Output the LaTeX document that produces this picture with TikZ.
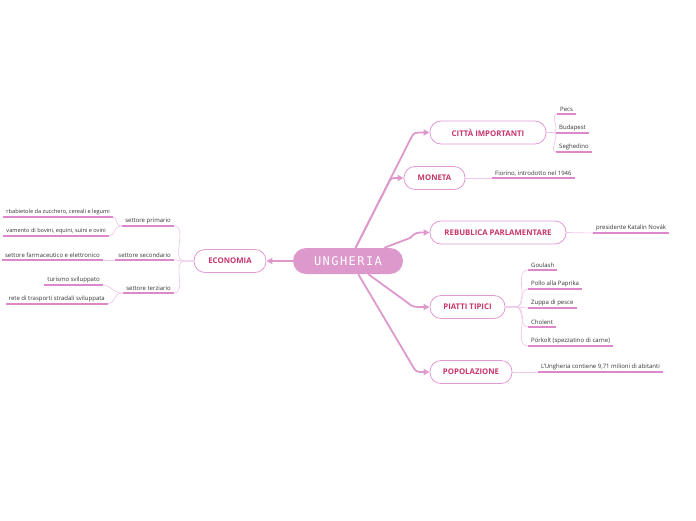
\documentclass[tikz,border=0pt]{standalone}
\usepackage{fontspec}
\setmainfont{Open Sans}
\newfontfamily\rootfont[LetterSpace=12]{DejaVu Sans Mono}
\usetikzlibrary{arrows.meta}

\definecolor{rootpink}{HTML}{DD99CC}
\definecolor{framepink}{HTML}{E29AD6}
\definecolor{linepink}{HTML}{DD88CC}
\definecolor{twigpink}{HTML}{F0C8EA}
\definecolor{topictext}{HTML}{C8356A}
\definecolor{leaftext}{HTML}{333333}

\tikzset{
  root/.style={fill=rootpink, rounded corners=13pt, minimum width=110pt,
    minimum height=26pt, text=white, font=\rootfont\fontsize{12}{14}\selectfont},
  topic/.style={draw=framepink, line width=0.8pt, fill=white, rounded corners=11pt,
    minimum height=23pt, text=topictext, font=\bfseries\fontsize{7.8}{9}\selectfont},
  leaf/.style={text=leaftext, inner xsep=3pt, inner ysep=2pt,
    font=\fontsize{6}{7}\selectfont},
  branch/.style={draw=rootpink, line width=1.8pt, -{Triangle[length=6pt,width=6pt]}},
  twig/.style={draw=twigpink, line width=0.7pt},
  uline/.style={draw=linepink, line width=1.1pt},
}

\begin{document}
\begin{tikzpicture}[x=1pt, y=-1pt]
  \useasboundingbox (0,0) rectangle (696,520);

  % central topic
  \node[root] (root) at (348,261) {UNGHERIA};

  % main topics
  \node[topic, minimum width=116pt] (citta) at (488,132.5) {CITTÀ IMPORTANTI};
  \node[topic, minimum width=61pt] (moneta) at (434.5,178) {MONETA};
  \node[topic, minimum width=136pt] (repub) at (498,232.5) {REBUBLICA PARLAMENTARE};
  \node[topic, minimum width=75pt] (piatti) at (467.5,307) {PIATTI TIPICI};
  \node[topic, minimum width=82pt] (popol) at (471,372) {POPOLAZIONE};
  \node[topic, minimum width=72pt] (economia) at (230,261) {ECONOMIA};

  % branches from the centre
  \draw[branch] (root.60) -- (411,138) .. controls (414,132.5) .. (citta.west);
  \draw[branch] (root.60) -- (388,184) .. controls (391,178) .. (moneta.west);
  \draw[branch] (root.20) -- (410,238) .. controls (416,232.5) .. (repub.west);
  \draw[branch] (root.-33) -- (408,303) .. controls (413,307) .. (piatti.west);
  \draw[branch] (root.-52) -- (412,365) .. controls (416,372) .. (popol.west);
  \draw[branch] (root.west) -- (economia.east);

  % right side leaves
  \node[leaf, anchor=south west] (pecs) at (557,114) {Pecs};
  \node[leaf, anchor=south west] (budapest) at (556,133) {Budapest};
  \node[leaf, anchor=south west] (seghedino) at (556,152) {Seghedino};
  \node[leaf, anchor=south west] (fiorino) at (492,178) {Fiorino, introdotto nel 1946};
  \node[leaf, anchor=south west] (novak) at (593,233) {presidente Katalin Novák};
  \node[leaf, anchor=south west] (goulash) at (528,270) {Goulash};
  \node[leaf, anchor=south west] (paprika) at (528,289) {Pollo alla Paprika};
  \node[leaf, anchor=south west] (zuppa) at (528,308) {Zuppa di pesce};
  \node[leaf, anchor=south west] (cholent) at (528,327) {Cholent};
  \node[leaf, anchor=south west] (porkolt) at (528,346) {Pörkolt (spezzatino di carne)};
  \node[leaf, anchor=south west] (abitanti) at (538,372) {L’Ungheria contiene 9,71 milioni di abitanti};

  % left side leaves
  \node[leaf, anchor=south east] (primario) at (174,226) {settore primario};
  \node[leaf, anchor=south east] (secondario) at (174,260) {settore secondario};
  \node[leaf, anchor=south east] (terziario) at (174,293) {settore terziario};
  \node[leaf, anchor=south east, font=\fontsize{5.6}{7}\selectfont] (barbab) at (113,217) {rbabietole da zucchero, cereali e legumi};
  \node[leaf, anchor=south east, font=\fontsize{5.6}{7}\selectfont] (alleva) at (109,236) {vamento di bovini, equini, suini e ovini};
  \node[leaf, anchor=south east] (farmac) at (103,260) {settore farmaceutico e elettronico};
  \node[leaf, anchor=south east] (turismo) at (103,285) {turismo sviluppato};
  \node[leaf, anchor=south east] (trasporti) at (108,304) {rete di trasporti stradali sviluppata};

  % underlines
  \foreach \n in {pecs,budapest,seghedino,fiorino,novak,goulash,paprika,zuppa,
      cholent,porkolt,abitanti,primario,secondario,terziario,barbab,alleva,
      farmac,turismo,trasporti}
    \draw[uline] (\n.south west) -- (\n.south east);

  % twigs
  \foreach \n in {pecs,budapest,seghedino}
    \draw[twig] (citta.east) -- ++(7,0) to[out=0,in=180] (\n.south west);
  \draw[twig] (moneta.east) -- (fiorino.south west);
  \draw[twig] (repub.east) -- (novak.south west);
  \foreach \n in {goulash,paprika,zuppa,cholent,porkolt}
    \draw[twig] (piatti.east) -- ++(10,0) to[out=0,in=180] (\n.south west);
  \draw[twig] (popol.east) -- (abitanti.south west);

  \foreach \n in {primario,secondario,terziario}
    \draw[twig] (economia.west) -- ++(-9,0) to[out=180,in=0] (\n.south east);
  \foreach \n in {barbab,alleva}
    \draw[twig] (primario.south west) -- ++(-2,0) to[out=180,in=0] (\n.south east);
  \draw[twig] (secondario.south west) -- (farmac.south east);
  \foreach \n in {turismo,trasporti}
    \draw[twig] (terziario.south west) -- ++(-2,0) to[out=180,in=0] (\n.south east);
\end{tikzpicture}
\end{document}
